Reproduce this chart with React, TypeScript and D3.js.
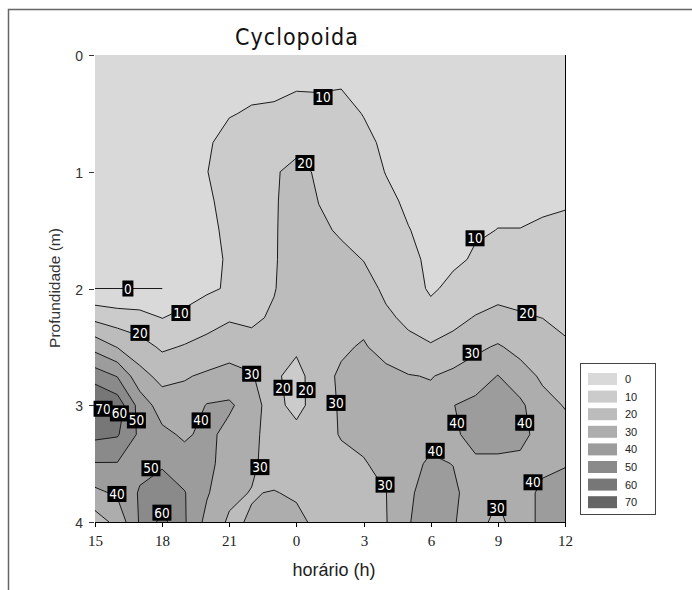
import React, { useEffect, useRef } from "react";
import * as d3 from "d3";

const W = 692;
const H = 590;

// Grid spacing: one column per hour (starting at 15 h), one row every 0.25 m
const hourStep = 1;
const depthStep = 0.25;
const hourSpan = 21;
const maxDepth = 4;

const hourLabels = ["15", "18", "21", "0", "3", "6", "9", "12"];
const depthTicks = [0, 1, 2, 3, 4];
const levels = [0, 10, 20, 30, 40, 50, 60, 70];
const levelColors = [
  "#d9d9d9",
  "#cbcbcb",
  "#bcbcbc",
  "#adadad",
  "#9c9c9c",
  "#8a8a8a",
  "#777777",
  "#656565",
];

// Cyclopoida density, rows = depth 0 → 4 m, columns = 15 h → 12 h
const grid: number[][] = [
  [5, 5, 5, 5, 5, 6, 6.5, 6.5, 6, 7, 7, 7, 6, 6, 6, 6, 5.5, 5, 5, 5, 5, 5],
  [5, 5, 5, 5, 5, 7, 8, 8, 8.5, 9.2, 9, 9.5, 8, 7, 6.5, 6.5, 6, 5.5, 5.5, 5.5, 5.5, 5.5],
  [5, 5, 5, 5, 5, 8, 9.5, 10.8, 11, 12.5, 12.5, 12.5, 9.7, 7.5, 7, 7, 6.5, 6, 6.5, 6.5, 6.5, 6.5],
  [5, 5, 5, 5, 5.5, 9, 12.7, 12.5, 13, 15.5, 15, 14, 12, 8.5, 7.5, 7.3, 7, 7, 7.5, 7.5, 7.5, 7.5],
  [5, 5, 5, 5, 6, 9.9, 12, 13.5, 18.5, 24, 18, 16, 14, 9.7, 8, 7.5, 7.5, 7.5, 8.2, 8.2, 8.3, 8.5],
  [5, 5, 5, 5, 6, 9, 12.1, 14.5, 18.8, 25, 19.8, 17.5, 16, 12, 8.5, 7.5, 7.8, 8.5, 8.7, 8.7, 9, 9.3],
  [5, 5, 5, 5, 6, 9, 10.85, 15.5, 19, 25, 21.5, 19, 18, 14, 10.3, 7.5, 8, 9.2, 10.1, 10.1, 10.8, 11.5],
  [4, 4, 4, 4.5, 6, 9, 10.4, 16.5, 19, 25.5, 25, 22, 19.8, 16.5, 12.5, 8, 8.3, 11, 14, 13, 13.5, 13.5],
  [0, 0, 0, 0, 5, 8.5, 11, 17.5, 19.4, 26, 26.5, 25, 23, 18.5, 15, 8.5, 12.5, 15, 17.5, 16.5, 16.5, 15.5],
  [17.5, 14.7, 13.6, 9.8, 12.5, 15.5, 19, 18, 21.5, 27, 27, 27, 27, 21.3, 18.5, 14, 17.5, 20.5, 22, 21, 19.9, 17.5],
  [36.6, 29.5, 23.9, 18.5, 20.7, 23.5, 25.9, 23.8, 23, 22, 27, 28.5, 31, 26, 22, 21, 23, 28, 31, 27, 25, 21.5],
  [55.4, 49.5, 33.5, 27, 29.2, 31.4, 33.3, 31, 22, 16, 26.4, 31.5, 33, 33, 30.5, 29.5, 32.5, 35, 40.3, 34, 28.5, 26],
  [72, 66, 46, 35.2, 34, 40.5, 41.5, 35, 24, 16, 26, 31, 34, 35, 33, 33, 39.8, 42.5, 45, 42, 33, 29.5],
  [62.5, 61, 48, 42.4, 38.5, 42.5, 37, 34.5, 22, 24, 27, 30.5, 33.5, 36, 35, 37, 38.5, 43, 45, 43, 36, 33],
  [49.5, 49.5, 47, 48.6, 44.4, 43, 35, 32, 25, 27.5, 27.5, 28, 29, 34, 37, 41.5, 39.8, 38.5, 37.5, 37.5, 38.5, 39.5],
  [37.8, 41.5, 51, 56, 50.5, 41, 32.5, 29.5, 30.5, 28.5, 27, 27, 27.5, 29.8, 38.5, 44, 42, 35, 31, 37, 41.5, 43],
  [25, 33, 51, 63, 51, 37, 28.5, 30.8, 33, 33, 27, 26, 27, 29.5, 39.5, 44, 41, 34, 27, 36, 42, 44],
];

// Contour labels: level, hours after 15 h, depth (m)
const labelLevels = [10, 20, 10, 0, 10, 20, 20, 30, 30, 20, 20, 30, 70, 60, 50, 40, 40, 40, 40, 30, 50, 40, 30, 40, 30, 60];
const labelHours = [10.19, 9.38, 16.98, 1.47, 3.84, 19.3, 2.01, 16.85, 7.0, 8.4, 9.43, 10.77, 0.36, 1.09, 1.85, 4.74, 16.17, 19.2, 15.2, 7.37, 2.5, 19.57, 12.96, 0.98, 17.96, 2.99];
const labelDepths = [0.36, 0.925, 1.57, 2.0, 2.21, 2.21, 2.38, 2.55, 2.73, 2.85, 2.87, 2.98, 3.03, 3.07, 3.13, 3.13, 3.15, 3.15, 3.39, 3.53, 3.54, 3.66, 3.68, 3.76, 3.88, 3.92];

const PLOT = { left: 95, right: 565, top: 55, bottom: 522 };

export default function App() {
  const ref = useRef<SVGSVGElement>(null);

  useEffect(() => {
    const svg = d3.select(ref.current);
    svg.selectAll("*").remove();

    const x = d3.scaleLinear().domain([0, hourSpan]).range([PLOT.left, PLOT.right]);
    const y = d3.scaleLinear().domain([0, maxDepth]).range([PLOT.top, PLOT.bottom]);

    const nx = grid[0].length;
    const ny = grid.length;
    const values = grid.flat();

    // grid cell (i, j) sits at contour coordinate (i + 0.5, j + 0.5)
    const toScreen = d3.geoTransform({
      point(cx: number, cy: number) {
        (this as any).stream.point(x((cx - 0.5) * hourStep), y((cy - 0.5) * depthStep));
      },
    });
    const path = d3.geoPath(toScreen);

    const contourGen = d3.contours().size([nx, ny]).thresholds(levels.slice(1));
    const bands = contourGen(values);

    // level-0 isoline: the ring around cells at zero (a hair of tolerance keeps the ring's area)
    const zeroRing = d3
      .contours()
      .size([nx, ny])
      .contour(values.map((v) => -v), -(levels[0] + 1e-6));

    // outer frame
    svg
      .append("path")
      .attr("d", `M8.5,${H} L8.5,9.5 L${W},9.5`)
      .attr("fill", "none")
      .attr("stroke", "#666")
      .attr("stroke-width", 1.5);

    svg
      .append("defs")
      .append("clipPath")
      .attr("id", "plot-clip")
      .append("rect")
      .attr("x", PLOT.left)
      .attr("y", PLOT.top)
      .attr("width", PLOT.right - PLOT.left)
      .attr("height", PLOT.bottom - PLOT.top);

    const plot = svg.append("g").attr("clip-path", "url(#plot-clip)");

    plot
      .append("rect")
      .attr("x", PLOT.left)
      .attr("y", PLOT.top)
      .attr("width", PLOT.right - PLOT.left)
      .attr("height", PLOT.bottom - PLOT.top)
      .attr("fill", levelColors[0]);

    plot
      .selectAll("path.band")
      .data(bands)
      .join("path")
      .attr("class", "band")
      .attr("d", (d) => path(d as any))
      .attr("fill", (d) => levelColors[levels.indexOf(d.value)]);

    plot
      .selectAll("path.iso")
      .data(bands)
      .join("path")
      .attr("class", "iso")
      .attr("d", (d) => path(d as any))
      .attr("fill", "none")
      .attr("stroke", "#1a1a1a")
      .attr("stroke-width", 1);

    plot
      .append("path")
      .attr("d", path(zeroRing as any))
      .attr("fill", "none")
      .attr("stroke", "#1a1a1a")
      .attr("stroke-width", 1);

    // contour value labels
    const lab = svg.append("g");
    labelLevels.forEach((lv, i) => {
      const txt = String(lv);
      const cx = x(labelHours[i]);
      const cy = y(labelDepths[i]);
      const bw = 3 + 8 * txt.length;
      const bh = 16;
      lab
        .append("rect")
        .attr("x", cx - bw / 2)
        .attr("y", cy - bh / 2)
        .attr("width", bw)
        .attr("height", bh)
        .attr("fill", "#000");
      lab
        .append("text")
        .attr("x", cx)
        .attr("y", cy + 5)
        .attr("text-anchor", "middle")
        .attr("fill", "#fff")
        .attr("font-family", "'DejaVu Sans Condensed', 'DejaVu Sans', sans-serif")
        .attr("font-size", 13.5)
        .text(txt);
    });

    // right border of plot
    svg
      .append("line")
      .attr("x1", PLOT.right + 0.5)
      .attr("x2", PLOT.right + 0.5)
      .attr("y1", PLOT.top)
      .attr("y2", PLOT.bottom)
      .attr("stroke", "#000");

    // x axis
    const xa = svg.append("g");
    xa.append("line")
      .attr("x1", PLOT.left)
      .attr("x2", PLOT.right + 1)
      .attr("y1", PLOT.bottom + 0.5)
      .attr("y2", PLOT.bottom + 0.5)
      .attr("stroke", "#000");
    hourLabels.forEach((t, i) => {
      const px = Math.round(x(i * 3)) + 0.5;
      xa.append("line")
        .attr("x1", px)
        .attr("x2", px)
        .attr("y1", PLOT.bottom)
        .attr("y2", PLOT.bottom + 5)
        .attr("stroke", "#000");
      xa.append("text")
        .attr("x", px)
        .attr("y", PLOT.bottom + 24)
        .attr("text-anchor", "middle")
        .attr("font-family", "'Liberation Serif', serif")
        .attr("font-size", 15)
        .attr("fill", "#222")
        .text(t);
    });

    // y axis
    const ya = svg.append("g");
    depthTicks.forEach((d) => {
      const py = Math.round(y(d)) + 0.5;
      ya.append("line")
        .attr("x1", PLOT.left - 6)
        .attr("x2", PLOT.left - 1)
        .attr("y1", py)
        .attr("y2", py)
        .attr("stroke", "#333");
      ya.append("text")
        .attr("x", PLOT.left - 12)
        .attr("y", py + 5)
        .attr("text-anchor", "end")
        .attr("font-family", "'Liberation Sans', Arial, sans-serif")
        .attr("font-size", 14)
        .attr("fill", "#333")
        .text(String(d));
    });

    svg
      .append("text")
      .attr("transform", `translate(60,288) rotate(-90)`)
      .attr("text-anchor", "middle")
      .attr("font-family", "'Liberation Sans', Arial, sans-serif")
      .attr("font-size", 15.5)
      .attr("fill", "#333")
      .text("Profundidade (m)");

    svg
      .append("text")
      .attr("x", 334)
      .attr("y", 576)
      .attr("text-anchor", "middle")
      .attr("font-family", "'Liberation Sans', Arial, sans-serif")
      .attr("font-size", 18)
      .attr("fill", "#222")
      .text("horário (h)");

    svg
      .append("text")
      .attr("x", 297)
      .attr("y", 45)
      .attr("text-anchor", "middle")
      .attr("font-family", "'DejaVu Sans Condensed', 'DejaVu Sans', sans-serif")
      .attr("font-stretch", "condensed")
      .attr("font-size", 23)
      .attr("letter-spacing", 1)
      .attr("fill", "#111")
      .text("Cyclopoida");

    // legend
    const lg = svg.append("g");
    lg.append("rect")
      .attr("x", 580.5)
      .attr("y", 363.5)
      .attr("width", 75)
      .attr("height", 151)
      .attr("fill", "#fff")
      .attr("stroke", "#444");
    levels.forEach((lv, i) => {
      const ry = 373 + i * 17.6;
      lg.append("rect")
        .attr("x", 588)
        .attr("y", ry)
        .attr("width", 29)
        .attr("height", 12)
        .attr("fill", levelColors[i]);
      lg.append("text")
        .attr("x", 625)
        .attr("y", ry + 10)
        .attr("font-family", "'Liberation Sans', Arial, sans-serif")
        .attr("font-size", 11)
        .attr("fill", "#222")
        .text(String(lv));
    });
  }, []);

  return (
    <svg
      ref={ref}
      width={W}
      height={H}
      style={{ position: "absolute", left: 0, top: 0, background: "#fff" }}
    />
  );
}
